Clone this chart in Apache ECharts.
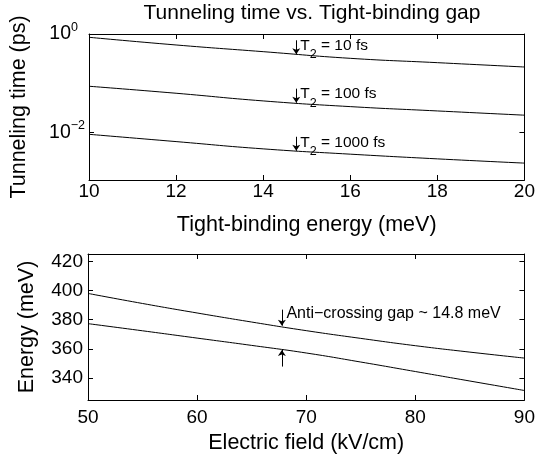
<!DOCTYPE html>
<html lang="en">
<head>
    <meta charset="UTF-8">
    <title>Tunneling time</title>
    <style>
        body { margin: 0; background: #fff; }
    </style>
</head>
<body>
    <div id="echarts" style="width: 538px; height: 464px"></div>
    <script src="https://cdn.jsdelivr.net/npm/echarts@6/dist/echarts.min.js"></script>
    <script>
        // top panel: tunneling time vs tight-binding energy
        const energy = [10, 12, 14, 16, 18, 20];
        const tau10 = [0.857, 0.598, 0.437, 0.32, 0.261, 0.213];
        const tau100 = [0.0865, 0.0623, 0.0435, 0.0333, 0.0272, 0.0223];
        const tau1000 = [0.0091, 0.00647, 0.0046, 0.00359, 0.00288, 0.00236];
        const t2Labels = ['10', '100', '1000'];
        const t2ArrowX = 14.76;
        const t2ArrowY = [0.386, 0.040, 0.0042];

        // bottom panel: energy levels vs electric field
        const field = [50, 55, 60, 65, 70, 75, 80, 85, 90];
        const upperLevel = [398.0, 391.1, 384.6, 378.4, 372.5, 367.2, 362.2, 357.8, 353.7];
        const lowerLevel = [377.3, 372.4, 367.4, 362.4, 357.2, 351.0, 344.5, 338.0, 331.5];
        const gapX = 67.77;
        const gapTop = 375.9;
        const gapBottom = 359.3;
        const gapText = 'Anti\u2212crossing gap ~ 14.8 meV';

        const energyTicks = [340, 360, 380, 400, 420];
        const tauTicks = [0.01, 1];

        const font = 'Liberation Sans';
        const black = '#000';

        function zip(xs, ys) {
            return xs.map((x, i) => [x, ys[i]]);
        }

        function axisBase(extra) {
            return Object.assign({
                axisLine: { show: true, lineStyle: { color: black, width: 1 } },
                axisTick: { show: true, inside: true, length: 5, lineStyle: { color: black } },
                splitLine: { show: false },
                axisLabel: { color: black, fontFamily: font, fontSize: 19, margin: 5 },
                nameTextStyle: { color: black, fontFamily: font, fontSize: 21.5 }
            }, extra);
        }

        function mirror(extra) {
            const a = axisBase(extra);
            a.axisLabel = { show: false };
            return a;
        }

        function ticks(values) {
            return { show: true, inside: true, length: 5, lineStyle: { color: black }, customValues: values };
        }

        // little arrow drawn as a mark line, tip on the curve
        function arrow(from, to) {
            return {
                silent: true,
                symbol: ['none', 'arrow'],
                symbolSize: 6,
                label: { show: false },
                lineStyle: { color: black, width: 1, type: 'solid' },
                data: [[{ coord: from }, { coord: to }]]
            };
        }

        const tauSeries = [tau10, tau100, tau1000].map((vals, i) => ({
            type: 'line',
            xAxisIndex: 0,
            yAxisIndex: 0,
            data: zip(energy, vals),
            smooth: true,
            showSymbol: false,
            lineStyle: { color: black, width: 1 },
            markLine: arrow([t2ArrowX, t2ArrowY[i] * 1.93], [t2ArrowX, t2ArrowY[i]]),
            markPoint: {
                symbol: 'circle',
                symbolSize: 0,
                data: [{ coord: [t2ArrowX, t2ArrowY[i]] }],
                label: {
                    show: true,
                    position: 'top',
                    align: 'left',
                    distance: 0,
                    offset: [4, 7],
                    formatter: '{t|T}{sub|2}{t| = ' + t2Labels[i] + ' fs}',
                    rich: {
                        t: { fontSize: 15.5, fontFamily: font, color: black },
                        sub: { fontSize: 12.5, fontFamily: font, color: black, padding: [18, 0, 0, 0] }
                    }
                }
            }
        }));

        const levelSeries = [upperLevel, lowerLevel].map((vals, i) => {
            const s = {
                type: 'line',
                xAxisIndex: 2,
                yAxisIndex: 2,
                data: zip(field, vals),
                smooth: true,
                showSymbol: false,
                lineStyle: { color: black, width: 1 }
            };
            if (i === 0) {
                s.markLine = arrow([gapX, gapTop + 11], [gapX, gapTop]);
                s.markPoint = {
                    symbol: 'circle',
                    symbolSize: 0,
                    data: [{ coord: [gapX, gapTop] }],
                    label: {
                        show: true,
                        position: 'top',
                        align: 'left',
                        distance: 0,
                        offset: [4.5, -4],
                        formatter: gapText,
                        color: black,
                        fontFamily: font,
                        fontSize: 16
                    }
                };
            } else {
                s.markLine = arrow([gapX, gapBottom - 11.4], [gapX, gapBottom]);
            }
            return s;
        });

        const option = {
            animation: false,
            backgroundColor: '#fff',
            title: {
                text: 'Tunneling time vs. Tight-binding gap',
                left: 307,
                textAlign: 'center',
                top: -2,
                textStyle: { fontFamily: font, fontSize: 21, fontWeight: 'normal', color: black }
            },
            grid: [
                { left: 88, right: 12, top: 34, height: 146 },
                { left: 88, right: 12, top: 254, height: 146 }
            ],
            xAxis: [
                axisBase({
                    gridIndex: 0, type: 'value', min: 10, max: 20, interval: 2,
                    axisLabel: { color: black, fontFamily: font, fontSize: 19, margin: 2 },
                    name: 'Tight-binding energy (meV)', nameLocation: 'middle', nameGap: 34
                }),
                mirror({ gridIndex: 0, type: 'value', position: 'top', min: 10, max: 20, interval: 2 }),
                axisBase({
                    gridIndex: 1, type: 'value', min: 50, max: 90, interval: 10,
                    axisLabel: { color: black, fontFamily: font, fontSize: 19, margin: 8 },
                    name: 'Electric field (kV/cm)', nameLocation: 'middle', nameGap: 32
                }),
                mirror({ gridIndex: 1, type: 'value', position: 'top', min: 50, max: 90, interval: 10 })
            ],
            yAxis: [
                axisBase({
                    gridIndex: 0, type: 'log', logBase: 10, min: 0.00107, max: 1,
                    name: 'Tunneling time (ps)', nameLocation: 'middle', nameGap: 59,
                    axisTick: ticks(tauTicks),
                    axisLabel: {
                        color: black, fontFamily: font, fontSize: 19.5, margin: 4, customValues: tauTicks,
                        formatter: v => {
                            const e = Math.round(Math.log10(v));
                            return e === 0 ? '10{sup0|0}' : '10{sup|' + String(e).replace('-', '\u2212') + '}';
                        },
                        rich: {
                            sup: { fontSize: 12.5, fontFamily: font, color: black, padding: [0, 0, 13, 0] },
                            sup0: { fontSize: 12.5, fontFamily: font, color: black, padding: [0, 7, 13, 0] }
                        }
                    }
                }),
                mirror({
                    gridIndex: 0, type: 'log', logBase: 10, position: 'right', min: 0.00107, max: 1,
                    axisTick: ticks(tauTicks)
                }),
                axisBase({
                    gridIndex: 1, type: 'value', min: 325, max: 425,
                    name: 'Energy (meV)', nameLocation: 'middle', nameGap: 50,
                    axisTick: ticks(energyTicks),
                    axisLabel: { color: black, fontFamily: font, fontSize: 19, margin: 5, customValues: energyTicks }
                }),
                mirror({
                    gridIndex: 1, type: 'value', position: 'right', min: 325, max: 425,
                    axisTick: ticks(energyTicks)
                })
            ],
            series: tauSeries.concat(levelSeries)
        };

        const chart = echarts.init(document.getElementById('echarts'));
        chart.setOption(option);
    </script>
</body>
</html>
